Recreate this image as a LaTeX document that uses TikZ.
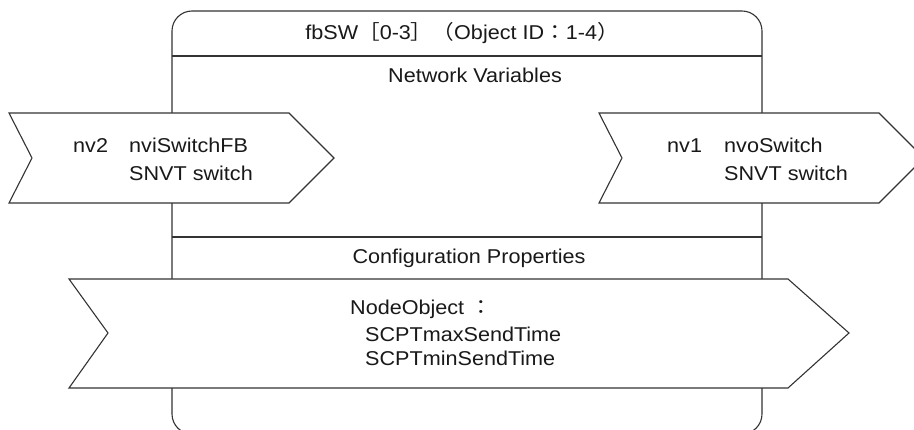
\documentclass[tikz,border=0pt]{standalone}
\usepackage{fontspec}
\setmainfont[FakeStretch=1.08]{Liberation Sans}
\newfontfamily\jp[FakeStretch=1.08]{Noto Sans CJK JP}
\usetikzlibrary{positioning}

\tikzset{
  fblock/.style={draw=black!80, line width=1.1pt, rounded corners=20pt, fill=white},
  nvshape/.style={draw=black!80, line width=1.1pt, fill=white, line join=miter},
  divider/.style={draw=black!80, line width=1.1pt},
  lbl/.style={font=\fontsize{20}{28}\selectfont, text=black!90, inner sep=0pt, anchor=base west},
  head/.style={font=\fontsize{20}{28}\selectfont, text=black!90, inner sep=0pt, anchor=base}
}

\begin{document}
\begin{tikzpicture}[x=1pt,y=-1pt]
\useasboundingbox (0,0) rectangle (914,430);
\clip (0,0) rectangle (914,430);
% function block
\draw[fblock] (172,11) rectangle (762,434);
\draw[divider] (172,56) -- (762,56);
\draw[divider] (172,237) -- (762,237);
\node[head](title) at (462,40) {fbSW{\jp ［}0-3{\jp ］（}Object ID{\jp ：}1-4{\jp ）}};
\node[head](netvar) at (475,83) {Network Variables};
\node[head](confprop) at (469,264) {Configuration Properties};
% input nv
\draw[nvshape] (9,113) -- (289,113) -- (334,158) -- (289,203) -- (9,203) -- (32,158) -- cycle;
\node[lbl](nvtwo) at (73,153) {nv2};
\node[lbl](nviname) at (129,153) {nviSwitchFB};
\node[lbl](nvitype) at ([yshift=-28pt]nviname.base west) {SNVT switch};
% output nv
\draw[nvshape] (599,113) -- (879,113) -- (924,158) -- (879,203) -- (599,203) -- (622,158) -- cycle;
\node[lbl](nvone) at (667,153) {nv1};
\node[lbl](nvoname) at (724,153) {nvoSwitch};
\node[lbl](nvotype) at ([yshift=-28pt]nvoname.base west) {SNVT switch};
% configuration properties
\draw[nvshape] (69,279) -- (788,279) -- (849,333) -- (788,388) -- (69,388) -- (108,333) -- cycle;
\node[lbl](nodeobj) at (350,315) {NodeObject {\jp ：}};
\node[lbl](maxsend) at (365,342) {SCPTmaxSendTime};
\node[lbl](minsend) at ([yshift=-24pt]maxsend.base west) {SCPTminSendTime};
\end{tikzpicture}
\end{document}
